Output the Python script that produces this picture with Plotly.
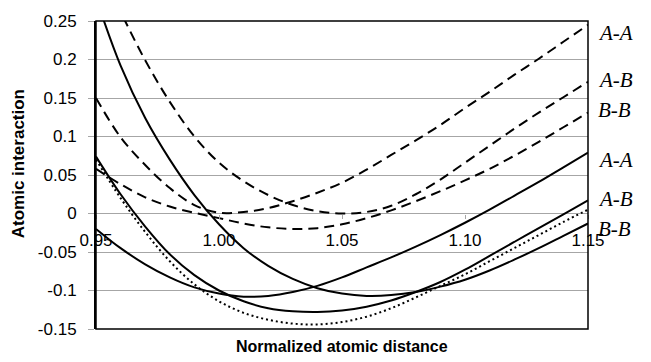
import plotly.graph_objects as go

# ---- data ----
distance = [0.95, 0.96, 0.97, 0.98, 0.99, 1.00, 1.01, 1.02, 1.03, 1.04, 1.05,
            1.06, 1.07, 1.08, 1.09, 1.10, 1.11, 1.12, 1.13, 1.14, 1.15]

dashed_AA = [0.150, 0.099, 0.063, 0.033, 0.011, 0.001, 0.002, 0.007, 0.016, 0.027, 0.040,
             0.057, 0.076, 0.095, 0.115, 0.137, 0.158, 0.180, 0.201, 0.223, 0.245]
dashed_AB = [0.330, 0.262, 0.199, 0.145, 0.100, 0.066, 0.042, 0.024, 0.011, 0.003, 0.000,
             0.002, 0.010, 0.025, 0.044, 0.066, 0.088, 0.110, 0.131, 0.151, 0.171]
dashed_BB = [0.058, 0.038, 0.021, 0.009, 0.001, -0.006, -0.013, -0.018, -0.020, -0.019, -0.014,
             -0.006, 0.004, 0.016, 0.029, 0.043, 0.058, 0.075, 0.093, 0.112, 0.131]
solid_AA = [-0.020, -0.045, -0.066, -0.083, -0.096, -0.104, -0.108, -0.107, -0.102, -0.094, -0.083,
            -0.070, -0.057, -0.043, -0.028, -0.012, 0.005, 0.023, 0.041, 0.060, 0.079]
solid_AB = [0.074, 0.025, -0.017, -0.053, -0.080, -0.100, -0.114, -0.123, -0.127, -0.128, -0.126,
            -0.121, -0.113, -0.102, -0.089, -0.073, -0.055, -0.037, -0.019, -0.001, 0.017]
solid_BB = [0.280, 0.192, 0.124, 0.070, 0.024, -0.014, -0.045, -0.068, -0.085, -0.097, -0.104,
            -0.107, -0.106, -0.102, -0.095, -0.086, -0.074, -0.060, -0.045, -0.029, -0.013]
dotted = [0.070, 0.020, -0.024, -0.062, -0.092, -0.114, -0.129, -0.138, -0.143, -0.144, -0.141,
          -0.134, -0.123, -0.109, -0.094, -0.079, -0.062, -0.045, -0.028, -0.011, 0.005]

y_tickvals = [-0.15, -0.1, -0.05, 0, 0.05, 0.1, 0.15, 0.2, 0.25]
y_ticktext = ["-0.15", "-0.1", "-0.05", "0", "0.05", "0.1", "0.15", "0.2", "0.25"]
x_tickvals = [0.95, 1.00, 1.05, 1.10, 1.15]
x_ticktext = ["0.95", "1.00", "1.05", "1.10", "1.15"]

end_labels = ["A-A", "A-B", "B-B", "A-A", "A-B", "B-B"]
end_label_y = [0.235, 0.174, 0.135, 0.070, 0.019, -0.020]

x_title = "Normalized atomic distance"
y_title = "Atomic interaction"

# ---- figure ----
fig = go.Figure()

series = [
    (dashed_AA, "10px,6px"), (dashed_AB, "10px,6px"), (dashed_BB, "10px,6px"),
    (solid_AA, "solid"), (solid_AB, "solid"), (solid_BB, "solid"),
    (dotted, "2px,3px"),
]
for ys, dash in series:
    fig.add_trace(go.Scatter(
        x=distance, y=ys, mode="lines",
        line=dict(color="black", width=2, dash=dash, shape="spline", smoothing=1),
        showlegend=False, hoverinfo="skip",
    ))

FONT = "Liberation Sans, Arial, Helvetica, sans-serif"

fig.update_layout(
    width=651, height=362,
    margin=dict(l=96, r=63, t=13, b=33),
    paper_bgcolor="white", plot_bgcolor="white",
    font=dict(family=FONT, size=17, color="black"),
    xaxis=dict(
        range=[0.95, 1.15], tickvals=x_tickvals, ticktext=x_ticktext,
        showgrid=False, zeroline=False, showline=False,
        anchor="free", position=0.375,
        ticks="outside", ticklen=4, tickcolor="#a6a6a6", tickwidth=1,
        ticklabelstandoff=7,
        tickfont=dict(family=FONT, size=17, color="black"),
    ),
    yaxis=dict(
        range=[-0.15, 0.25], tickvals=y_tickvals, ticktext=y_ticktext,
        showgrid=True, gridcolor="#a6a6a6", gridwidth=1,
        zeroline=False, showline=True, linecolor="black", linewidth=2,
        ticks="outside", ticklen=6, tickcolor="#a6a6a6", tickwidth=1,
        ticklabelstandoff=8,
        tickfont=dict(family=FONT, size=17, color="black"),
    ),
)

# frame
fig.add_shape(type="rect", xref="paper", yref="paper", x0=0, y0=0, x1=1, y1=1,
              line=dict(color="black", width=1.5), layer="above")

# axis titles
fig.add_annotation(text="<b>" + x_title + "</b>", xref="paper", yref="paper",
                   x=0.5, y=-0.057, xanchor="center", yanchor="middle", showarrow=False,
                   font=dict(family=FONT, size=16, color="black"))
fig.add_annotation(text="<b>" + y_title + "</b>", xref="paper", yref="paper",
                   x=-0.1585, y=0.535, xanchor="center", yanchor="middle", showarrow=False,
                   textangle=-90, font=dict(family=FONT, size=17, color="black"))

# curve labels at right
for lab, yv in zip(end_labels, end_label_y):
    fig.add_annotation(text="<i>" + lab + "</i>", xref="paper", yref="y",
                       x=1.016, y=yv, xanchor="left", yanchor="middle", showarrow=False,
                       font=dict(family="Liberation Serif, Times New Roman, serif", size=21, color="black"))

fig.write_html("out.html")
